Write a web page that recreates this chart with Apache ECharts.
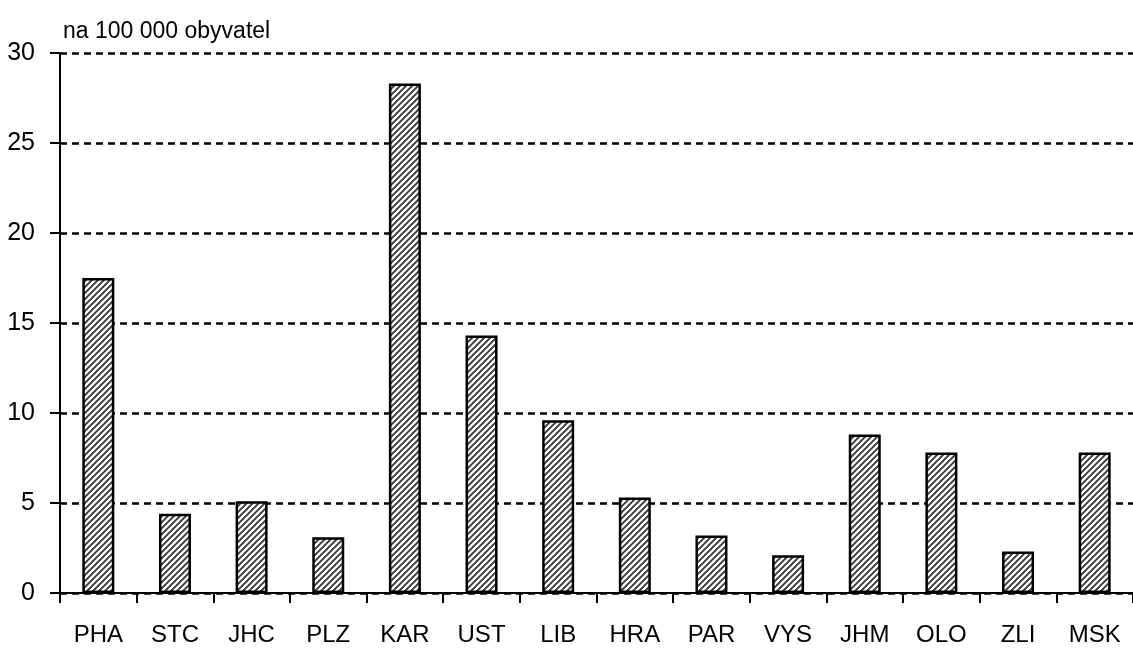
<!DOCTYPE html>
<html>
<head>
<meta charset="utf-8">
<script src="https://cdn.jsdelivr.net/npm/echarts@6/dist/echarts.min.js"></script>
<style>
  html, body { margin: 0; padding: 0; background: #fff; }
  #chart { width: 1133px; height: 649px; }
</style>
</head>
<body>
<div id="chart"></div>
<script>
// kraje ČR
var categories = ["PHA", "STC", "JHC", "PLZ", "KAR", "UST", "LIB", "HRA", "PAR", "VYS", "JHM", "OLO", "ZLI", "MSK"];
var values = [17.5, 4.4, 5.1, 3.1, 28.3, 14.3, 9.6, 5.3, 3.2, 2.1, 8.8, 7.8, 2.3, 7.8];
var unitLabel = "na 100 000 obyvatel";

var font = "'Liberation Sans', Arial, sans-serif";

// diagonal hatch fill
function hatch() {
  var c = document.createElement("canvas");
  c.width = 6;
  c.height = 6;
  var ctx = c.getContext("2d");
  ctx.fillStyle = "#fff";
  ctx.fillRect(0, 0, 6, 6);
  ctx.strokeStyle = "#333";
  ctx.lineWidth = 1.8;
  ctx.beginPath();
  ctx.moveTo(-1, 7); ctx.lineTo(7, -1);
  ctx.moveTo(-4, 4); ctx.lineTo(4, -4);
  ctx.moveTo(2, 10); ctx.lineTo(10, 2);
  ctx.stroke();
  return c;
}

var myChart = echarts.init(document.getElementById("chart"));

var option = {
  animation: false,
  textStyle: { fontFamily: font },
  title: {
    text: unitLabel,
    left: 58,
    top: 15,
    textStyle: { fontFamily: font, fontSize: 23, fontWeight: "normal", color: "#000" }
  },
  grid: {
    left: 60,
    top: 53,
    width: 1085,
    height: 540,
    containLabel: false
  },
  xAxis: {
    type: "category",
    data: categories,
    axisLine: { lineStyle: { color: "#000", width: 2 } },
    axisTick: { show: true, length: 10, lineStyle: { color: "#000", width: 2 } },
    axisLabel: { color: "#000", fontSize: 24, margin: 30, fontFamily: font }
  },
  yAxis: {
    type: "value",
    min: 0,
    max: 30,
    interval: 5,
    axisLine: { show: true, lineStyle: { color: "#000", width: 2 } },
    axisTick: { show: true, length: 10, lineStyle: { color: "#000", width: 2 } },
    axisLabel: { color: "#000", fontSize: 25, margin: 25, fontFamily: font },
    splitLine: {
      show: true,
      lineStyle: { color: "#000", width: 2.5, type: [7, 5] }
    }
  },
  series: [
    {
      type: "bar",
      data: values,
      barWidth: 32,
      itemStyle: {
        color: { image: hatch(), repeat: "repeat" },
        borderColor: "#000",
        borderWidth: 2.5
      }
    }
  ]
};

myChart.setOption(option);
</script>
</body>
</html>
